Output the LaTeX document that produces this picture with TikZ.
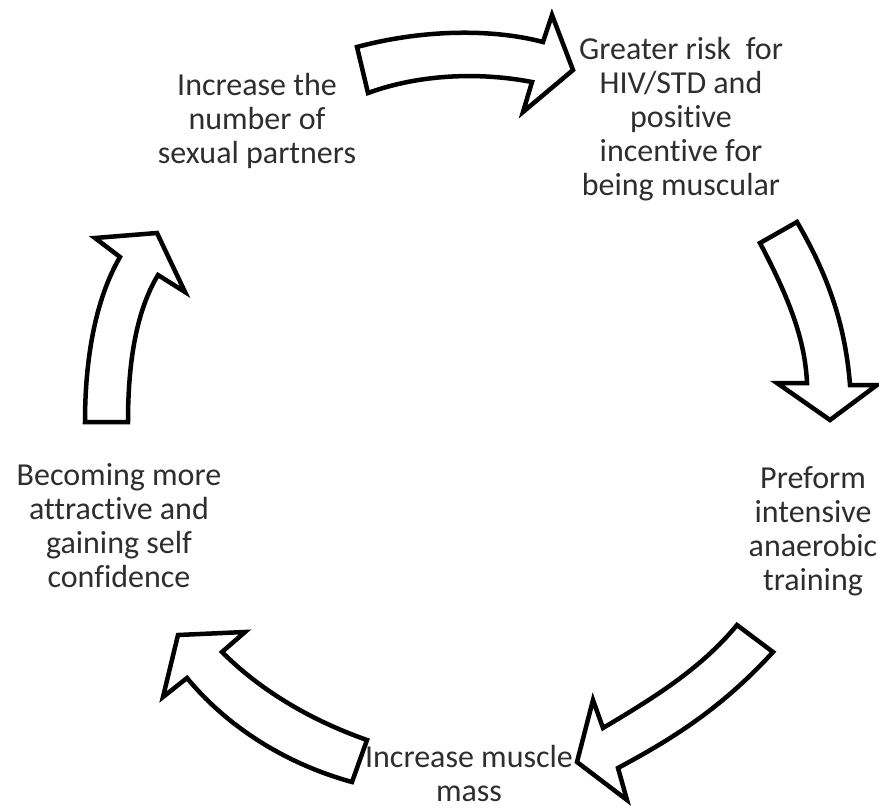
\documentclass[tikz,border=0pt]{standalone}
\usepackage{fontspec}
\setmainfont{Carlito}[Ligatures=NoCommon]
\begin{document}
\begin{tikzpicture}[x=1pt,y=-1pt,
    lbl/.style={align=center,anchor=base,inner sep=0pt,text=black!82,font=\fontsize{32}{34}\selectfont},
    bigarrow/.style={draw=black,line width=4.5pt,line join=miter,fill=white}]
            \useasboundingbox (0,0) rectangle (879,811);
            \draw[bigarrow] (357,47) -- (368,93) .. controls (420,74) and (480,72) .. (532,82) -- (523,112) -- (573,70) -- (552,15) -- (543,42) .. controls (490,28) and (420,30) .. (357,47) -- cycle;
            \draw[bigarrow] (797,222) -- (760,243) .. controls (790,300) and (805,340) .. (807,383) -- (777,383) -- (830,420) -- (877,385) -- (850,385) .. controls (845,320) and (825,270) .. (797,222) -- cycle;
            \draw[bigarrow] (737,625) -- (773,652) .. controls (720,710) and (670,740) .. (618,768) -- (627,800) -- (577,762) -- (593,700) -- (603,728) .. controls (650,700) and (700,670) .. (737,625) -- cycle;
            \draw[bigarrow] (352,782) -- (367,740) .. controls (310,720) and (260,690) .. (222,652) -- (245,632) -- (178,635) -- (163,697) -- (187,678) .. controls (230,730) and (290,765) .. (352,782) -- cycle;
            \draw[bigarrow] (85,422) -- (128,422) .. controls (128,350) and (140,305) .. (158,275) -- (185,292) -- (157,233) -- (95,238) -- (120,257) .. controls (95,300) and (85,360) .. (85,422) -- cycle;
            \node[lbl] (partners) at (257,163) {Increase the\\number of\\sexual partners};
            \node[lbl] (risk) at (681,195) {Greater risk\ \ for\\HIV/STD and\\positive\\incentive for\\being muscular};
            \node[lbl] (training) at (813,590) {Preform\\intensive\\anaerobic\\training};
            \node[lbl] (mass) at (469,801) {Increase muscle\\mass};
            \node[lbl] (confidence) at (119,587) {Becoming more\\attractive and\\gaining self\\confidence};
        \end{tikzpicture}
\end{document}
